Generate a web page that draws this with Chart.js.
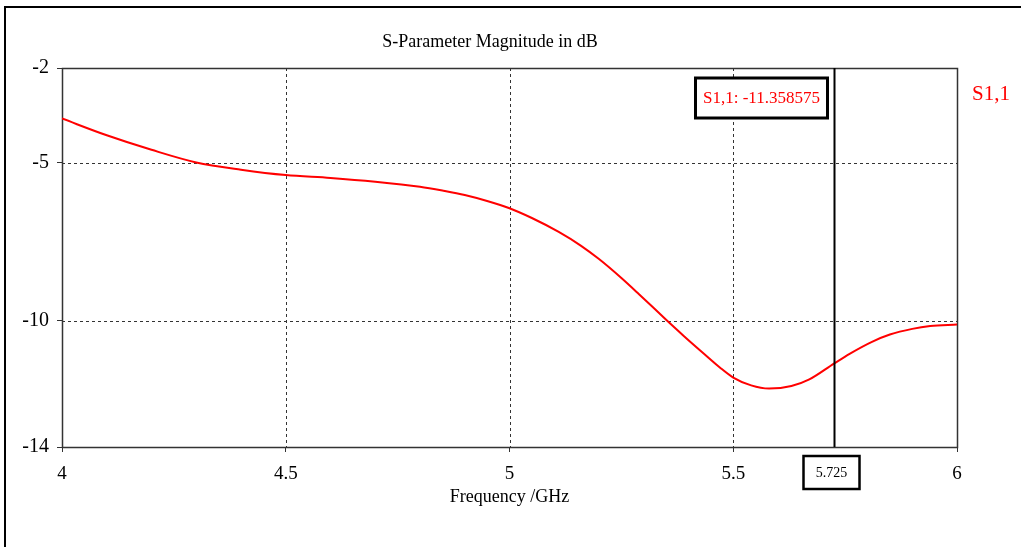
<!DOCTYPE html>
<html>
<head>
<meta charset="utf-8">
<script src="https://cdn.jsdelivr.net/npm/chart.js@4.4.0/dist/chart.umd.min.js"></script>
<style>
  html, body { margin: 0; padding: 0; background: #ffffff; }
  canvas { display: block; }
</style>
</head>
<body>
<canvas id="c" width="1021" height="547"></canvas>
<script>
// ---- data ----
const freqGHz = [4.0, 4.1, 4.2, 4.3, 4.4, 4.5, 4.6, 4.7, 4.8, 4.85, 4.9, 4.95, 5.0, 5.05, 5.11, 5.16, 5.2, 5.25, 5.29, 5.35, 5.39, 5.43, 5.47, 5.5, 5.54, 5.58, 5.63, 5.67, 5.725, 5.76, 5.81, 5.85, 5.9, 5.94, 6.0];
const s11dB   = [-3.6, -4.13, -4.59, -4.99, -5.22, -5.39, -5.48, -5.60, -5.76, -5.88, -6.02, -6.21, -6.44, -6.75, -7.19, -7.63, -8.05, -8.65, -9.17, -9.97, -10.49, -10.99, -11.48, -11.80, -12.05, -12.15, -12.07, -11.86, -11.36, -11.05, -10.67, -10.44, -10.26, -10.17, -10.12];
const xTickValues = [4, 4.5, 5, 5.5, 6];
const yTickValues = [-14, -10, -5, -2];
const seriesName = 'S1,1';
const chartTitle = 'S-Parameter Magnitude in dB';
const xAxisTitle = 'Frequency /GHz';
const markerFreq = 5.725;
const markerValueText = 'S1,1: -11.358575';
const markerFreqText = '5.725';

const SERIF = '"Liberation Serif", "Times New Roman", serif';

const overlay = {
  id: 'overlay',
  beforeDatasetsDraw(chart) {
    const { ctx, chartArea: a, scales: { x, y } } = chart;
    ctx.save();
    // dashed grid lines at inner ticks
    ctx.strokeStyle = '#333';
    ctx.lineWidth = 1;
    ctx.setLineDash([3, 3]);
    xTickValues.forEach(v => {
      if (v === x.min || v === x.max) return;
      const px = Math.round(x.getPixelForValue(v)) + 0.5;
      ctx.beginPath(); ctx.moveTo(px, a.top); ctx.lineTo(px, a.bottom); ctx.stroke();
    });
    yTickValues.forEach(v => {
      if (v === y.min || v === y.max) return;
      const py = Math.round(y.getPixelForValue(v)) + 0.5;
      ctx.beginPath(); ctx.moveTo(a.left, py); ctx.lineTo(a.right, py); ctx.stroke();
    });
    ctx.setLineDash([]);
    // plot frame
    ctx.strokeStyle = '#333';
    ctx.lineWidth = 1.5;
    ctx.strokeRect(Math.round(a.left) + 0.5, Math.round(a.top) + 0.5, Math.round(a.right - a.left), Math.round(a.bottom - a.top));
    ctx.restore();
  },
  afterDatasetsDraw(chart) {
    const { ctx, chartArea: a, scales: { x, y } } = chart;
    ctx.save();
    // marker line
    const mx = Math.round(x.getPixelForValue(markerFreq)) + 0.5;
    ctx.strokeStyle = '#000';
    ctx.lineWidth = 2;
    ctx.beginPath(); ctx.moveTo(mx, a.top); ctx.lineTo(mx, a.bottom); ctx.stroke();

    // marker value box
    const bw = 132, bh = 40;
    const bx = mx - 7 - bw, by = a.top + 10;
    ctx.fillStyle = '#fff';
    ctx.fillRect(bx, by, bw, bh);
    ctx.lineWidth = 3;
    ctx.strokeStyle = '#000';
    ctx.strokeRect(bx, by, bw, bh);
    ctx.fillStyle = '#ff0000';
    ctx.font = '17px ' + SERIF;
    ctx.textAlign = 'center';
    ctx.textBaseline = 'middle';
    ctx.fillText(markerValueText, bx + bw / 2, by + bh / 2 + 1);

    // marker frequency box below axis
    const fw = 56, fh = 33;
    const fx = mx - fw / 2 - 3, fy = a.bottom + 9;
    ctx.fillStyle = '#fff';
    ctx.fillRect(fx, fy, fw, fh);
    ctx.lineWidth = 2.5;
    ctx.strokeRect(fx, fy, fw, fh);
    ctx.fillStyle = '#000';
    ctx.font = '14px ' + SERIF;
    ctx.fillText(markerFreqText, fx + fw / 2, fy + fh / 2 + 1);

    // legend text
    ctx.fillStyle = '#ff0000';
    ctx.font = '21px ' + SERIF;
    ctx.textAlign = 'left';
    ctx.fillText(seriesName, a.right + 15, a.top + 26);

    // title
    ctx.fillStyle = '#000';
    ctx.font = '18px ' + SERIF;
    ctx.textAlign = 'center';
    ctx.fillText(chartTitle, 490, 42);

    // outer frame
    ctx.strokeStyle = '#000';
    ctx.lineWidth = 2;
    ctx.beginPath();
    ctx.moveTo(5, chart.height);
    ctx.lineTo(5, 7);
    ctx.lineTo(chart.width, 7);
    ctx.stroke();
    ctx.restore();
  }
};

new Chart(document.getElementById('c'), {
  type: 'scatter',
  data: {
    datasets: [{
      label: seriesName,
      data: freqGHz.map((f, i) => ({ x: f, y: s11dB[i] })),
      showLine: true,
      borderColor: '#ff0000',
      backgroundColor: '#ff0000',
      borderWidth: 2,
      pointRadius: 0,
      cubicInterpolationMode: 'monotone'
    }]
  },
  options: {
    responsive: false,
    animation: false,
    devicePixelRatio: 1,
    layout: { padding: { left: 0, right: 64, top: 68, bottom: 0 } },
    plugins: { legend: { display: false }, tooltip: { enabled: false }, title: { display: false } },
    scales: {
      x: {
        type: 'linear', min: 4, max: 6,
        afterBuildTicks: s => { s.ticks = xTickValues.map(v => ({ value: v })); },
        afterFit: s => { s.height = 100; },
        ticks: { font: { family: SERIF, size: 19 }, color: '#000', padding: 11, maxRotation: 0, autoSkip: false, callback: v => String(v) },
        grid: { drawOnChartArea: false, drawTicks: true, tickLength: 5, color: '#333' },
        border: { display: false },
        title: { display: true, text: xAxisTitle, font: { family: SERIF, size: 18 }, color: '#000', padding: { top: 0, bottom: 39 } }
      },
      y: {
        type: 'linear', min: -14, max: -2,
        afterBuildTicks: s => { s.ticks = yTickValues.map(v => ({ value: v })); },
        afterFit: s => { s.width = 62; },
        ticks: { font: { family: SERIF, size: 20 }, color: '#000', padding: 8, autoSkip: false, callback: v => String(v) },
        grid: { drawOnChartArea: false, drawTicks: true, tickLength: 5, color: '#333' },
        border: { display: false }
      }
    }
  },
  plugins: [overlay]
});
</script>
</body>
</html>
